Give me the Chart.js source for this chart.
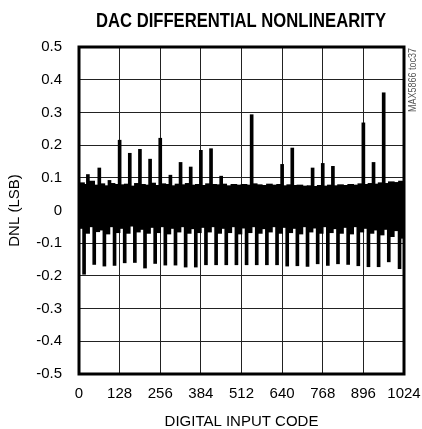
<!DOCTYPE html>
<html>
<head>
<meta charset="utf-8">
<script src="https://cdn.jsdelivr.net/npm/chart.js@4/dist/chart.umd.min.js"></script>
<style>
  html, body { margin: 0; padding: 0; background: #fff; }
  #wrap { width: 422px; height: 429px; }
</style>
</head>
<body>
<div id="wrap"><canvas id="dnlChart" width="422" height="429"></canvas></div>
<script>
// DNL values (LSB)
const upSpikeCodes = [28, 64, 96, 128, 160, 192, 224, 256, 288, 320, 352, 384, 416, 448, 544, 640, 672, 736, 768, 800, 896, 928, 960];
const upSpikeDnl = [0.11, 0.13, 0.092, 0.215, 0.175, 0.187, 0.157, 0.221, 0.108, 0.147, 0.133, 0.184, 0.189, 0.105, 0.293, 0.141, 0.191, 0.13, 0.144, 0.135, 0.268, 0.147, 0.36];

const downSpikeCodes = [16, 48, 80, 112, 144, 176, 208, 240, 272, 304, 336, 368, 400, 432, 464, 496, 528, 560, 592, 624, 656, 688, 720, 752, 784, 816, 848, 880, 912, 944, 976, 1010];
const downSpikeDnl = [-0.195, -0.165, -0.17, -0.168, -0.16, -0.159, -0.176, -0.162, -0.167, -0.167, -0.173, -0.173, -0.166, -0.166, -0.166, -0.166, -0.166, -0.166, -0.166, -0.166, -0.17, -0.169, -0.171, -0.163, -0.168, -0.163, -0.165, -0.169, -0.172, -0.172, -0.157, -0.178];

// the dense noise band, max / min per 16 codes
const bandHigh = [0.085, 0.08, 0.09, 0.078, 0.082, 0.076, 0.083, 0.08, 0.079, 0.081, 0.075, 0.083, 0.08, 0.078, 0.084, 0.077,
                  0.082, 0.08, 0.076, 0.081, 0.079, 0.083, 0.078, 0.08, 0.077, 0.082, 0.08, 0.079, 0.081, 0.076, 0.08, 0.078,
                  0.08, 0.078, 0.082, 0.079, 0.077, 0.081, 0.078, 0.08, 0.076, 0.079, 0.077, 0.078, 0.075, 0.076, 0.074, 0.077,
                  0.075, 0.078, 0.076, 0.079, 0.077, 0.08, 0.078, 0.082, 0.08, 0.083, 0.081, 0.085, 0.083, 0.088, 0.086, 0.09];
const bandLow = [-0.055, -0.07, -0.05, -0.065, -0.06, -0.072, -0.05, -0.068, -0.055, -0.07, -0.048, -0.066, -0.058, -0.07, -0.052, -0.068,
                 -0.05, -0.072, -0.055, -0.066, -0.05, -0.07, -0.056, -0.068, -0.052, -0.066, -0.05, -0.07, -0.055, -0.068, -0.05, -0.072,
                 -0.054, -0.068, -0.05, -0.07, -0.056, -0.066, -0.05, -0.07, -0.052, -0.068, -0.055, -0.072, -0.05, -0.066, -0.054, -0.07,
                 -0.05, -0.068, -0.056, -0.07, -0.052, -0.072, -0.05, -0.066, -0.055, -0.07, -0.06, -0.075, -0.058, -0.08, -0.062, -0.085];
const bandBin = 16;

const xTicks = [0, 128, 256, 384, 512, 640, 768, 896, 1024];

const bandData = bandHigh.map((h, i) => ({ x: i * bandBin + bandBin / 2, y: [bandLow[i], h] }));
const upData = upSpikeCodes.map((c, i) => ({ x: c, y: [0, upSpikeDnl[i]] }));
const downData = downSpikeCodes.map((c, i) => ({ x: c, y: [downSpikeDnl[i], 0] }));

const tickFont = { family: "'Liberation Sans', Arial, sans-serif", size: 15 };

// squeezed text, no condensed face installed
function narrowText(ctx, text, x, y, font, width, angle) {
  ctx.save();
  ctx.font = font;
  const w = ctx.measureText(text).width;
  ctx.translate(x, y);
  ctx.rotate(angle);
  ctx.scale(width / w, 1);
  ctx.textAlign = 'center';
  ctx.textBaseline = 'middle';
  ctx.fillText(text, 0, 0);
  ctx.restore();
}

// frame round the plot, title and the small side label
const framePlugin = {
  id: 'frame',
  afterDraw(chart) {
    const { ctx, chartArea: a } = chart;
    ctx.save();
    ctx.strokeStyle = '#000';
    ctx.lineWidth = 3;
    ctx.strokeRect(a.left, a.top, a.right - a.left, a.bottom - a.top);
    ctx.fillStyle = '#000';
    narrowText(ctx, 'DAC DIFFERENTIAL NONLINEARITY', 241, 21, "bold 21px 'Liberation Sans', Arial, sans-serif", 290, 0);
    ctx.fillStyle = '#555';
    narrowText(ctx, 'MAX5866 toc37', 413, 80, "10px 'Liberation Sans', Arial, sans-serif", 64, -Math.PI / 2);
    ctx.restore();
  }
};

new Chart(document.getElementById('dnlChart'), {
  type: 'bar',
  data: {
    datasets: [
      { label: 'band', data: bandData, backgroundColor: '#000', barThickness: 6, grouped: false },
      { label: 'up', data: upData, backgroundColor: '#000', barThickness: 3, grouped: false },
      { label: 'down', data: downData, backgroundColor: '#000', barThickness: 3, grouped: false }
    ]
  },
  options: {
    responsive: false,
    animation: false,
    layout: { padding: { left: 0, right: 0, top: 47, bottom: 0 } },
    plugins: {
      legend: { display: false },
      tooltip: { enabled: false },
      title: { display: false }
    },
    scales: {
      x: {
        type: 'linear',
        min: 0,
        max: 1024,
        offset: false,
        afterBuildTicks: s => { s.ticks = xTicks.map(v => ({ value: v })); },
        afterFit: s => { s.height = 55; s.paddingLeft = 0; s.paddingRight = 18; },
        grid: { color: '#222', lineWidth: 1, drawTicks: false, offset: false },
        border: { display: false },
        ticks: { color: '#000', font: tickFont, padding: 11, maxRotation: 0, autoSkip: false, callback: v => String(v) },
        title: {
          display: true, text: 'DIGITAL INPUT CODE', color: '#000',
          font: { family: "'Liberation Sans', Arial, sans-serif", size: 15, lineHeight: 1 },
          padding: { top: 0, bottom: 0 }
        }
      },
      y: {
        min: -0.5,
        max: 0.5,
        afterFit: s => { s.width = 79; },
        grid: { color: '#222', lineWidth: 1, drawTicks: false },
        border: { display: false },
        ticks: {
          stepSize: 0.1,
          color: '#000',
          font: tickFont,
          padding: 17,
          callback: v => String(Math.round(v * 10) / 10)
        },
        title: { display: true, text: 'DNL (LSB)', color: '#000', font: tickFont, padding: { top: 6, bottom: 0 } }
      }
    }
  },
  plugins: [framePlugin]
});
</script>
</body>
</html>
